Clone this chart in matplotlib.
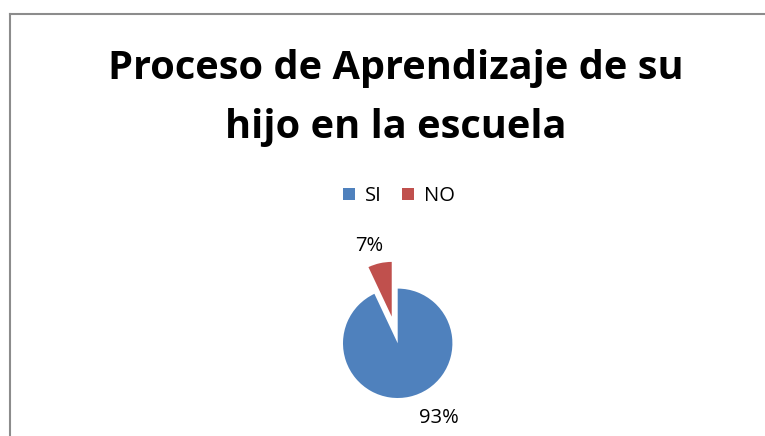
"""
Gráfico de pastel: Proceso de Aprendizaje de su hijo en la escuela
"""
import matplotlib
matplotlib.use('Agg')
import matplotlib.pyplot as plt
from matplotlib.lines import Line2D

# datos
categorias = ['SI', 'NO']
porcentajes = [93, 7]
colores = ['#4F81BD', '#C0504D']
titulo = ['Proceso de Aprendizaje de su', 'hijo en la escuela']

plt.rcParams['font.family'] = ['Open Sans', 'DejaVu Sans']

fig = plt.figure(figsize=(7.65, 4.36), dpi=100)
W, H = 765, 436

# marco del gráfico (solo arriba e izquierda visibles)
fig.add_artist(Line2D([10 / W, 10 / W], [0, 1 - 14 / H], transform=fig.transFigure,
                      color='#8c8c8c', lw=1.5))
fig.add_artist(Line2D([10 / W, 1], [1 - 14 / H, 1 - 14 / H], transform=fig.transFigure,
                      color='#8c8c8c', lw=1.5))

# título (dos líneas, alineadas por la línea base)
for linea, base in zip(titulo, [79, 138]):
    fig.text(396 / W, 1 - base / H, linea, ha='center', va='baseline', fontsize=28.6,
             fontweight='bold')

# pastel
cx, cy, r = 397.7, 343.3, 54.7
ext = 2.0
ax = fig.add_axes([(cx - ext * r) / W, (H - cy - ext * r) / H, 2 * ext * r / W, 2 * ext * r / H])
wedges, textos = ax.pie(porcentajes, colors=colores, startangle=90, counterclock=False,
                        explode=[0, 0.5], radius=1)[:2]
ax.set_xlim(-ext, ext)
ax.set_ylim(-ext, ext)
ax.set_aspect('auto')
ax.axis('off')

# etiquetas de porcentaje
pos_etiquetas = [(0.76, -1.36), (-0.52, 1.77)]
for valor, (px, py) in zip(porcentajes, pos_etiquetas):
    ax.text(px, py, f'{valor}%', ha='center', va='center', fontsize=14.5, clip_on=False)

# leyenda
fig.legend(wedges, categorias, loc='center', bbox_to_anchor=(399 / W, 1 - 196 / H), ncol=2,
           frameon=False, fontsize=14.5, handlelength=0.6, handleheight=0.6,
           handletextpad=0.5, columnspacing=1.0)

plt.savefig('out.png', dpi=100)
